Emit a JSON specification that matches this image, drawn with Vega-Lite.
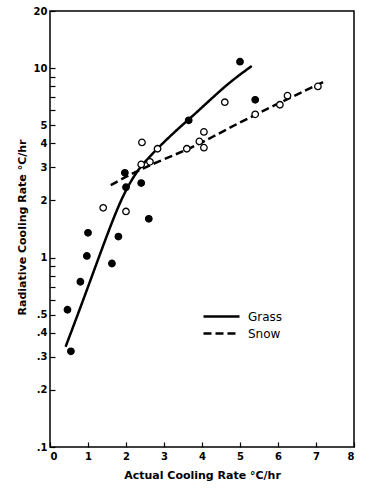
{
  "$schema": "https://vega.github.io/schema/vega-lite/v6.json",
  "width": 304,
  "height": 436,
  "autosize": {"type": "none"},
  "padding": {"left": 50, "top": 11, "right": 23, "bottom": 41},
  "background": "white",
  "config": {
    "view": {"stroke": "black", "strokeWidth": 1.5},
    "font": "DejaVu Sans",
    "axis": {
      "grid": false,
      "domain": false,
      "tickColor": "black",
      "tickWidth": 1.2,
      "labelColor": "black",
      "titleColor": "black",
      "labelFont": "DejaVu Sans",
      "titleFont": "DejaVu Sans",
      "labelFontSize": 10,
      "titleFontSize": 11,
      "labelFontWeight": "bold",
      "titleFontWeight": "bold"
    }
  },
  "datasets": {
    "pts": [
      {"x": 5.0, "y": 10.8, "surface": "Grass"},
      {"x": 5.4, "y": 6.8, "surface": "Grass"},
      {"x": 3.65, "y": 5.3, "surface": "Grass"},
      {"x": 1.97, "y": 2.8, "surface": "Grass"},
      {"x": 2.0, "y": 2.35, "surface": "Grass"},
      {"x": 2.4, "y": 2.47, "surface": "Grass"},
      {"x": 2.6, "y": 1.6, "surface": "Grass"},
      {"x": 1.0, "y": 1.35, "surface": "Grass"},
      {"x": 1.8, "y": 1.29, "surface": "Grass"},
      {"x": 0.97, "y": 1.02, "surface": "Grass"},
      {"x": 1.63, "y": 0.93, "surface": "Grass"},
      {"x": 0.8, "y": 0.745, "surface": "Grass"},
      {"x": 0.46, "y": 0.53, "surface": "Grass"},
      {"x": 0.55, "y": 0.32, "surface": "Grass"},
      {"x": 7.05, "y": 8.0, "surface": "Snow"},
      {"x": 6.25, "y": 7.15, "surface": "Snow"},
      {"x": 6.05, "y": 6.4, "surface": "Snow"},
      {"x": 5.4, "y": 5.7, "surface": "Snow"},
      {"x": 4.6, "y": 6.6, "surface": "Snow"},
      {"x": 4.05, "y": 4.6, "surface": "Snow"},
      {"x": 3.93, "y": 4.1, "surface": "Snow"},
      {"x": 4.05, "y": 3.8, "surface": "Snow"},
      {"x": 3.6, "y": 3.75, "surface": "Snow"},
      {"x": 2.83, "y": 3.75, "surface": "Snow"},
      {"x": 2.42, "y": 4.05, "surface": "Snow"},
      {"x": 2.63, "y": 3.2, "surface": "Snow"},
      {"x": 2.4, "y": 3.1, "surface": "Snow"},
      {"x": 1.4, "y": 1.83, "surface": "Snow"},
      {"x": 2.0, "y": 1.75, "surface": "Snow"}
    ],
    "fits": [
      {"x": 0.41, "y": 0.338, "series": "Grass"},
      {"x": 0.88, "y": 0.6, "series": "Grass"},
      {"x": 1.32, "y": 1.05, "series": "Grass"},
      {"x": 1.75, "y": 1.78, "series": "Grass"},
      {"x": 2.02, "y": 2.32, "series": "Grass"},
      {"x": 2.28, "y": 2.84, "series": "Grass"},
      {"x": 2.54, "y": 3.27, "series": "Grass"},
      {"x": 2.83, "y": 3.77, "series": "Grass"},
      {"x": 3.33, "y": 4.71, "series": "Grass"},
      {"x": 3.64, "y": 5.32, "series": "Grass"},
      {"x": 4.21, "y": 6.78, "series": "Grass"},
      {"x": 4.74, "y": 8.47, "series": "Grass"},
      {"x": 5.31, "y": 10.25, "series": "Grass"},
      {"x": 1.6, "y": 2.41, "series": "Snow"},
      {"x": 2.41, "y": 2.96, "series": "Snow"},
      {"x": 3.6, "y": 3.69, "series": "Snow"},
      {"x": 4.21, "y": 4.26, "series": "Snow"},
      {"x": 5.4, "y": 5.7, "series": "Snow"},
      {"x": 7.28, "y": 8.6, "series": "Snow"}
    ]
  },
  "encoding": {
    "x": {
      "field": "x",
      "type": "quantitative",
      "scale": {"domain": [0, 8], "nice": false, "zero": false},
      "axis": {
        "title": "Actual Cooling Rate °C/hr",
        "values": [0, 1, 2, 3, 4, 5, 6, 7, 8],
        "tickSize": -5,
        "labelPadding": 9,
        "titlePadding": 8
      }
    },
    "y": {
      "field": "y",
      "type": "quantitative",
      "scale": {"type": "log", "domain": [0.1, 20], "nice": false},
      "axis": {
        "title": "Radiative Cooling Rate °C/hr",
        "values": [0.1, 0.2, 0.3, 0.4, 0.5, 0.6, 0.7, 0.8, 0.9, 1, 2, 3, 4, 5, 6, 7, 8, 9, 10, 20],
        "labelExpr": "(datum.value > 0.55 && datum.value < 0.95) || (datum.value > 5.5 && datum.value < 9.5) ? '' : replace(format(datum.value, ''), '0.', '.')",
        "tickSize": -5,
        "labelPadding": 8,
        "titleX": -28,
        "titleY": 216,
        "titleAngle": -90,
        "titleBaseline": "middle",
        "titleAlign": "center"
      }
    }
  },
  "layer": [
    {
      "data": {"name": "fits"},
      "mark": {"type": "line", "color": "black", "strokeWidth": 2.5, "interpolate": "basis"},
      "encoding": {
        "strokeDash": {
          "field": "series",
          "type": "nominal",
          "scale": {"domain": ["Grass", "Snow"], "range": [[1, 0], [8, 4]]},
          "legend": {
            "title": null,
            "orient": "none",
            "legendX": 161,
            "legendY": 295,
            "symbolType": "M-2,0H2",
            "symbolSize": 324,
            "symbolStrokeWidth": 2.5,
            "symbolStrokeColor": "black",
            "symbolFillColor": "transparent",
            "labelFontSize": 12,
            "labelFont": "DejaVu Sans",
            "labelColor": "black",
            "labelOffset": 16,
            "rowPadding": 0
          }
        }
      }
    },
    {
      "data": {"name": "pts"},
      "mark": {"type": "point", "shape": "circle", "size": 42, "stroke": "black", "strokeWidth": 1.3, "opacity": 1},
      "encoding": {
        "fill": {
          "field": "surface",
          "type": "nominal",
          "scale": {"domain": ["Grass", "Snow"], "range": ["black", "white"]},
          "legend": null
        }
      }
    }
  ]
}
